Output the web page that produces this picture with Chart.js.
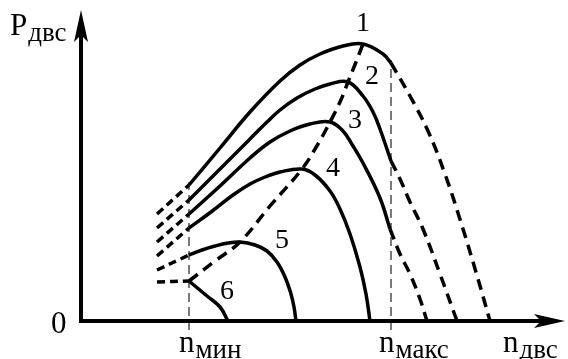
<!DOCTYPE html>
<html>
<head>
<meta charset="utf-8">
<script src="https://cdn.jsdelivr.net/npm/chart.js@4.4.0/dist/chart.umd.min.js"></script>
<style>
  body { margin: 0; background: #fff; }
</style>
</head>
<body>
<canvas id="chart" width="568" height="359"></canvas>
<script>
// engine speed n (x) and power P (y) (arbitrary units)
const nMin = 108;
const nMax = 310;
const axisMaxN = 484;
const axisMaxP = 311;

const curveLabels = ['1', '2', '3', '4', '5', '6'];

// solid part of each curve, between n_min and n_max
const solidN = [
  [108, 139, 169, 199, 219, 239, 262, 282, 302, 310],
  [108, 139, 169, 185, 199, 216, 234, 249, 267, 282, 292, 299, 310],
  [108, 139, 169, 189, 209, 229, 249, 262, 272, 282, 299, 309],
  [108, 130, 152, 169, 184, 199, 221, 234, 249, 259, 269, 279, 285, 289],
  [108, 121, 134, 147, 159, 174, 186, 196, 204, 210, 213, 215],
  [108, 126, 139, 147]
];
const solidP = [
  [136, 173, 209, 240, 256, 267, 275, 277, 267, 258],
  [121, 152, 182, 198, 211, 223, 232, 237, 239, 225, 209, 192, 160],
  [107, 135, 163, 179, 190, 197, 199, 190, 175, 158, 123, 92],
  [93, 109, 126, 137, 144, 149, 152, 146, 130, 112, 87, 54, 27, 0],
  [66, 71, 75, 78, 79, 76, 70, 59, 44, 27, 14, 0],
  [40, 25, 14, 0]
];

// dashed continuation past n_max (curves 1-3)
const rightDashN = [
  [310, 329, 347, 364, 382, 397, 409],
  [310, 319, 329, 342, 359, 376],
  [309, 319, 329, 339, 346]
];
const rightDashP = [
  [258, 225, 190, 147, 92, 42, 0],
  [160, 142, 119, 92, 47, 0],
  [92, 67, 47, 22, 0]
];

// dashed continuation below n_min
const leftDashN = [76, 108];
const leftDashP = [
  [107, 136],
  [93, 121],
  [79, 107],
  [65, 93],
  [51, 66],
  [39, 40]
];

// dashed line through the maxima
const peakN = [108, 134, 159, 189, 221, 237, 249, 259, 267, 275, 282];
const peakP = [40, 60, 79, 115, 152, 177, 199, 219, 239, 259, 277];

function pts(ns, ps) {
  return ns.map((n, i) => ({ x: n, y: ps[i] }));
}

const datasets = [];
solidN.forEach((ns, i) => {
  datasets.push({ data: pts(ns, solidP[i]), borderWidth: 3.5 });
});
rightDashN.forEach((ns, i) => {
  datasets.push({ data: pts(ns, rightDashP[i]), borderWidth: 3.5, borderDash: [11, 7] });
});
leftDashP.forEach((ps) => {
  datasets.push({ data: pts(leftDashN, ps), borderWidth: 3.5, borderDash: [8, 5] });
});
datasets.push({ data: pts(peakN, peakP), borderWidth: 3.5, borderDash: [11, 7] });

const serif = '"Liberation Serif", "Times New Roman", serif';

function subText(ctx, main, sub, x, y) {
  ctx.font = '31px ' + serif;
  ctx.fillText(main, x, y);
  const w = ctx.measureText(main).width;
  ctx.font = '27px ' + serif;
  ctx.fillText(sub, x + w + 1, y + 6);
}

// curve 1 value at a given n, for the height of the reference lines
function curve1At(n) {
  const ns = solidN[0], ps = solidP[0];
  for (let i = 1; i < ns.length; i++) {
    if (n <= ns[i]) {
      const t = (n - ns[i - 1]) / (ns[i] - ns[i - 1]);
      return ps[i - 1] + t * (ps[i] - ps[i - 1]);
    }
  }
  return ps[ps.length - 1];
}

const labelOffsets = [[0, -20], [24, -5], [25, -1], [31, 0], [42, -1], [38, 11]];

const decor = {
  id: 'decor',
  beforeDatasetsDraw(chart) {
    const { ctx, scales: { x, y } } = chart;
    ctx.save();
    ctx.strokeStyle = '#333';
    ctx.lineWidth = 1.3;
    ctx.setLineDash([9, 5]);
    [nMin, nMax].forEach((n) => {
      const px = x.getPixelForValue(n);
      ctx.beginPath();
      ctx.moveTo(px, y.getPixelForValue(0) + 9);
      ctx.lineTo(px, y.getPixelForValue(curve1At(n)) - 3);
      ctx.stroke();
    });
    ctx.restore();
  },
  afterDatasetsDraw(chart) {
    const { ctx, scales: { x, y } } = chart;
    const x0 = x.getPixelForValue(0);
    const y0 = y.getPixelForValue(0);
    const xEnd = x.getPixelForValue(axisMaxN);
    const yEnd = y.getPixelForValue(axisMaxP);
    ctx.save();
    ctx.strokeStyle = '#000';
    ctx.fillStyle = '#000';
    ctx.lineWidth = 4;
    ctx.lineCap = 'butt';
    ctx.beginPath();
    ctx.moveTo(x0, y0 + 2);
    ctx.lineTo(x0, yEnd + 24);
    ctx.moveTo(x0 - 2, y0);
    ctx.lineTo(xEnd - 24, y0);
    ctx.stroke();
    // arrow heads
    ctx.beginPath();
    ctx.moveTo(x0, yEnd);
    ctx.lineTo(x0 - 7, yEnd + 32);
    ctx.lineTo(x0, yEnd + 25);
    ctx.lineTo(x0 + 7, yEnd + 32);
    ctx.closePath();
    ctx.fill();
    ctx.beginPath();
    ctx.moveTo(xEnd, y0);
    ctx.lineTo(xEnd - 31, y0 - 7);
    ctx.lineTo(xEnd - 24, y0);
    ctx.lineTo(xEnd - 31, y0 + 7);
    ctx.closePath();
    ctx.fill();

    // texts
    ctx.textBaseline = 'alphabetic';
    ctx.textAlign = 'left';
    subText(ctx, 'P', 'двс', x0 - 71, yEnd + 25);
    ctx.font = '31px ' + serif;
    ctx.fillText('0', x0 - 30, y0 + 12);
    subText(ctx, 'n', 'мин', x.getPixelForValue(nMin) - 10, y0 + 31);
    subText(ctx, 'n', 'макс', x.getPixelForValue(nMax) - 12, y0 + 31);
    subText(ctx, 'n', 'двс', xEnd - 62, y0 + 31);

    ctx.textAlign = 'center';
    ctx.textBaseline = 'middle';
    ctx.font = '28px ' + serif;
    solidN.forEach((ns, i) => {
      const ps = solidP[i];
      let k = 0;
      ps.forEach((p, j) => { if (p > ps[k]) k = j; });
      const px = x.getPixelForValue(ns[k]) + labelOffsets[i][0];
      const py = y.getPixelForValue(ps[k]) + labelOffsets[i][1];
      ctx.fillText(curveLabels[i], px, py);
    });
    ctx.restore();
  }
};

new Chart(document.getElementById('chart'), {
  type: 'line',
  data: { datasets: datasets },
  options: {
    responsive: false,
    devicePixelRatio: 1,
    animation: false,
    layout: { padding: { left: 81, right: 3, top: 10, bottom: 38 } },
    elements: {
      line: { borderColor: '#000', tension: 0.4, fill: false },
      point: { radius: 0 }
    },
    plugins: { legend: { display: false }, tooltip: { enabled: false } },
    scales: {
      x: { type: 'linear', min: 0, max: axisMaxN, display: false },
      y: { type: 'linear', min: 0, max: axisMaxP, display: false }
    }
  },
  plugins: [decor]
});
</script>
</body>
</html>
